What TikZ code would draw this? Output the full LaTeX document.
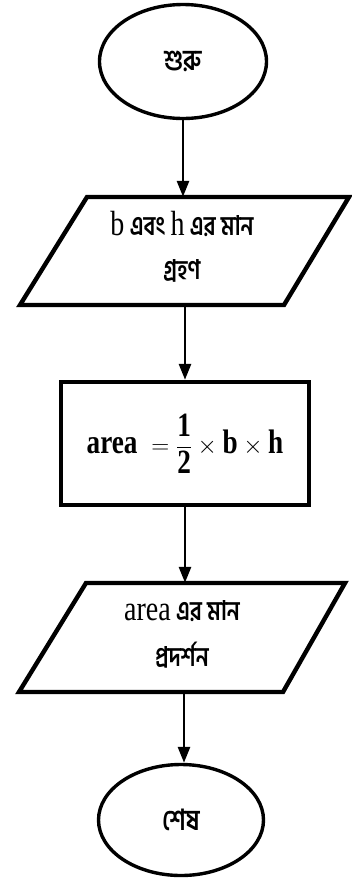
\documentclass[tikz,border=0pt]{standalone}
\usepackage{amsmath}
\usepackage{fontspec}
\usetikzlibrary{shapes.geometric,arrows.meta}
\newfontfamily\bnfont[Script=Bengali,FakeStretch=0.82]{Hind Siliguri}
\newfontfamily\latinfont[FakeStretch=0.8]{Liberation Serif}
\newcommand{\lt}[1]{{\latinfont\mdseries\fontsize{35}{46}\selectfont #1}}
\tikzset{
  term/.style={ellipse,draw,line width=3.4pt,inner sep=0pt},
  iobox/.style={inner sep=0pt,align=center},
  procbox/.style={draw,line width=4.4pt,inner sep=0pt},
  flow/.style={line width=2.8pt,-{Triangle[length=16pt,width=12pt]}},
  outline/.style={line width=4.4pt,line join=miter}
}
\begin{document}
\begin{tikzpicture}[x=1pt,y=-1pt]
\useasboundingbox (0,0) rectangle (352,887);
% start
\node[term,minimum width=167pt,minimum height=114pt] (start) at (183,61.5)
  {\bnfont\bfseries\fontsize{29}{30}\selectfont শুরু};
% input
\node[iobox,minimum width=200pt,minimum height=108pt] (inp) at (185,251) {};
\draw[outline] (87,197) -- (349,197) -- (284,305) -- (20,305) -- cycle;
\node[iobox,font=\bnfont\bfseries\fontsize{27}{44}\selectfont] (inptext) at (182,247)
  {\lt{b} এবং \lt{h} এর মান\\গ্রহণ};
% process
\node[procbox,minimum width=248pt,minimum height=123pt] (proc) at (185,443.5)
  {\latinfont\bfseries\fontsize{34}{38}\selectfont
   $\text{area}\; = \dfrac{\text{1}}{\text{2}} \times \text{b} \times \text{h}$};
% output
\node[iobox,minimum width=200pt,minimum height=109pt] (out) at (184,637.5) {};
\draw[outline] (86,583) -- (345,583) -- (283,692) -- (19,692) -- cycle;
\node[iobox,font=\bnfont\bfseries\fontsize{27}{46}\selectfont] (outtext) at (182,634)
  {\lt{area} এর মান\\প্রদর্শন};
% end
\node[term,minimum width=165pt,minimum height=111pt] (stop) at (181,820)
  {\bnfont\bfseries\fontsize{29}{30}\selectfont শেষ};
% connectors
\draw[flow] (start.south) -- (start.south |- inp.north);
\draw[flow] (inp.south) -- (inp.south |- proc.north);
\draw[flow] (proc.south) -- (proc.south |- out.north);
\draw[flow] (out.south) -- (out.south |- stop.north);
\end{tikzpicture}
\end{document}
